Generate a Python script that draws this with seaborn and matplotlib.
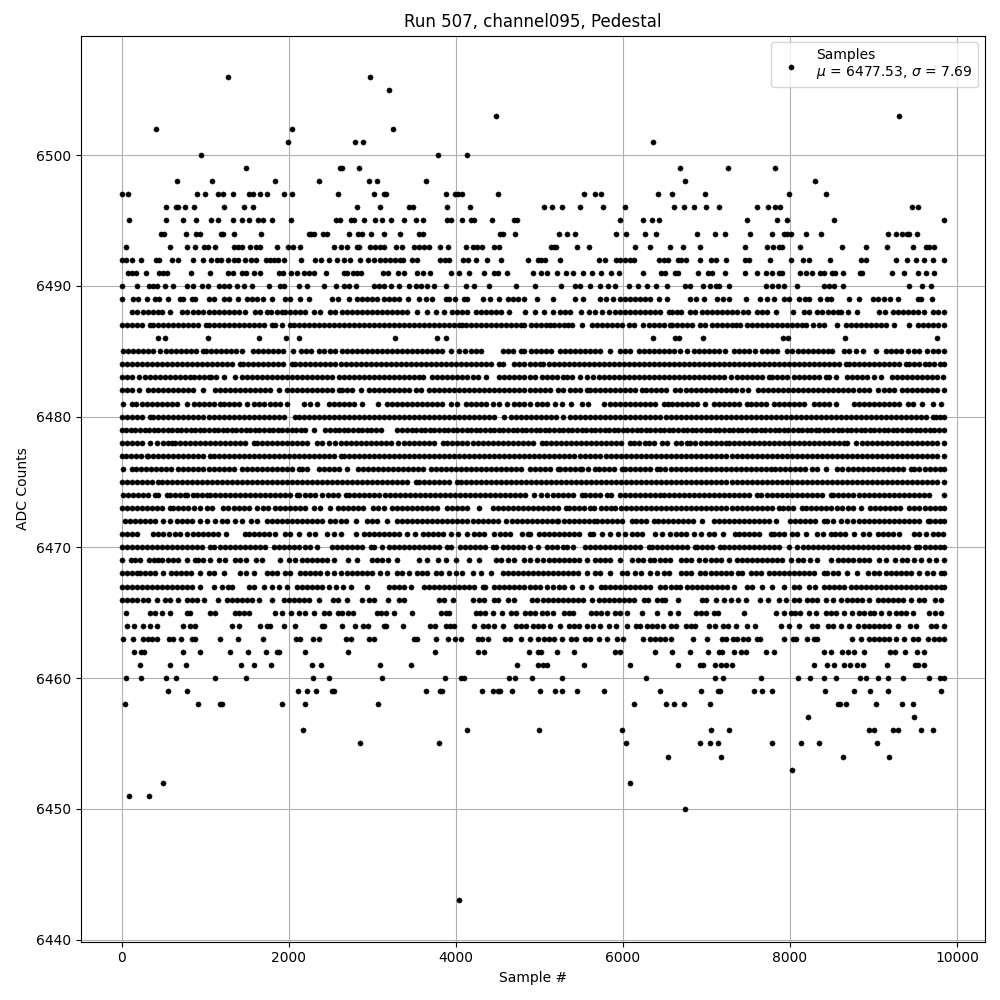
import pandas as pd
import matplotlib
matplotlib.use("Agg")
import matplotlib.pyplot as plt
import seaborn as sns

# sample numbers, one list per ADC level
s6506 = [1268, 2972]
s6505 = [3200]
s6503 = [4476, 9308]
s6502 = [416, 2036, 3248]
s6501 = [1988, 2792, 2888, 6356]
s6500 = [956, 3788, 4136]
s6499 = [1484, 2612, 2640, 2840, 6680, 7256, 7820]
s6498 = [668, 1076, 1832, 2360, 2960, 3056, 3644, 6740, 8300]
s6497 = [8, 80, 908, 1004, 1148, 1208, 1328, 1520, 1568, 1652, 1736, 1940, 2036, 2588, 3020, 3140, 3168, 3884, 3992, 4028, 4076, 4508, 5540, 5672, 5732, 6416, 6584, 6980, 7988, 8432]
s6496 = [536, 656, 680, 764, 872, 1220, 1460, 1568, 2816, 3092, 3440, 3488, 3896, 4172, 5060, 5156, 5276, 5492, 5756, 6020, 6608, 6728, 6848, 6992, 7148, 7604, 7736, 7820, 7880, 9464, 9536]
s6495 = [92, 536, 740, 896, 1064, 1148, 1328, 1436, 1520, 1628, 1688, 1796, 2024, 2564, 2612, 2744, 2780, 2900, 3032, 3116, 3224, 3380, 3524, 3608, 3896, 3944, 4076, 4184, 4220, 4436, 4700, 4736, 5960, 6236, 6344, 6428, 7484, 7844, 7964, 8528, 9842]
s6494 = [476, 512, 776, 896, 944, 1184, 1208, 1340, 1664, 2240, 2270, 2300, 2408, 2456, 2720, 2824, 2872, 2984, 3140, 3332, 3560, 3608, 4532, 4568, 4712, 5240, 5336, 5432, 5912, 6032, 6260, 6392, 6884, 7100, 7220, 7520, 7784, 7928, 7968, 8008, 8192, 8372, 9176, 9272, 9344, 9400, 9428, 9524]
s6493 = [56, 584, 788, 884, 992, 1028, 1112, 1340, 1388, 1436, 1532, 1604, 1660, 1856, 1988, 2048, 2132, 2540, 2620, 2692, 2816, 2840, 2972, 3032, 3092, 3140, 3284, 3356, 3500, 3560, 3620, 3680, 3812, 3908, 4124, 4208, 4256, 4316, 4460, 4520, 5144, 5180, 5204, 5456, 5600, 6140, 6320, 6560, 6716, 6920, 7460, 7724, 7796, 7868, 7904, 8120, 8624, 8912, 9164, 9476, 9632, 9668, 9728]
s6492 = [0, 56, 128, 236, 416, 452, 608, 680, 860, 980, 1064, 1140, 1184, 1268, 1340, 1388, 1472, 1544, 1604, 1724, 1772, 1820, 1868, 1940, 2144, 2312, 2384, 2480, 2576, 2660, 2732, 2852, 2948, 3020, 3092, 3152, 3212, 3272, 3332, 3368, 3476, 3540, 3812, 3872, 3920, 4088, 4148, 4244, 4376, 4544, 4868, 4980, 5024, 5072, 5252, 5708, 5780, 5912, 5960, 6020, 6080, 6128, 6428, 6488, 6536, 6656, 6700, 6752, 6920, 7052, 7112, 7232, 7460, 7508, 7760, 8012, 8156, 8228, 8480, 8852, 8912, 9272, 9404, 9512, 9608, 9716, 9842]
s6491 = [80, 128, 168, 296, 452, 500, 548, 828, 1052, 1268, 1328, 1436, 1484, 1580, 1652, 1880, 1928, 2024, 2096, 2180, 2240, 2300, 2444, 2660, 2696, 2768, 2816, 2864, 3128, 3188, 3308, 3380, 3540, 3608, 3692, 3944, 4040, 4160, 4340, 4460, 4508, 4616, 4928, 5024, 5096, 5216, 5324, 5408, 5528, 5636, 5732, 5852, 5948, 6236, 6452, 6500, 6620, 6656, 6896, 7016, 7064, 7220, 7460, 7604, 7712, 7784, 7868, 7904, 8120, 8192, 8264, 8360, 8408, 8504, 8540, 8636, 8840, 8864, 9224, 9368, 9536, 9624, 9728]
s6490 = [0, 188, 332, 380, 428, 524, 620, 788, 860, 960, 1028, 1160, 1220, 1280, 1380, 1460, 1556, 1760, 1900, 1940, 2120, 2220, 2420, 2564, 2660, 2720, 2800, 3020, 3080, 3140, 3220, 3320, 3440, 3520, 3580, 3660, 3740, 3880, 4120, 4220, 4400, 4720, 4950, 5256, 5428, 5488, 5608, 5728, 5816, 5900, 6076, 6176, 6284, 6392, 6524, 6740, 6808, 6956, 7048, 7120, 7148, 7268, 7712, 7780, 7860, 7928, 8088, 8408, 8470, 8528, 8636, 9428, 9584, 9688]
s6489 = [0, 140, 200, 308, 400, 452, 552, 700, 740, 840, 880, 1040, 1100, 1220, 1280, 1388, 1500, 1560, 1620, 1688, 1796, 1960, 2020, 2132, 2240, 2520, 2588, 2720, 2820, 2880, 2940, 3000, 3060, 3140, 3200, 3260, 3320, 3428, 3560, 3640, 3716, 3880, 3920, 3992, 4100, 4140, 4328, 4412, 4520, 4620, 4680, 4740, 4820, 4976, 5168, 5432, 5528, 5730, 5800, 5880, 5970, 6030, 6090, 6150, 6208, 6270, 6330, 6428, 6524, 6800, 6880, 6968, 7128, 7200, 7268, 7472, 7640, 7720, 7808, 7930, 7988, 8108, 8180, 8228, 8360, 8440, 8488, 8708, 8828, 8990, 9048, 9130, 9200, 9290, 9530, 9568, 9704]
s6488 = [130, 190, 250, 320, 380, 440, 480, 580, 720, 780, 860, 920, 980, 1040, 1100, 1160, 1220, 1280, 1340, 1400, 1480, 1600, 1660, 1740, 1790, 1860, 1920, 1960, 2020, 2080, 2140, 2200, 2300, 2380, 2500, 2560, 2640, 2700, 2760, 2820, 2880, 2940, 3000, 3060, 3120, 3180, 3240, 3300, 3360, 3420, 3540, 3660, 3760, 3860, 3960, 4020, 4080, 4140, 4240, 4300, 4360, 4420, 4480, 4540, 4640, 4830, 4950, 5060, 5168, 5250, 5310, 5370, 5500, 5600, 5670, 5750, 5830, 5910, 5970, 6030, 6090, 6150, 6210, 6270, 6330, 6390, 6450, 6548, 6590, 6650, 6700, 6800, 6860, 6948, 7010, 7070, 7130, 7190, 7250, 7310, 7368, 7436, 7496, 7608, 7670, 7730, 7828, 8036, 8168, 8230, 8320, 8388, 8450, 8510, 8570, 8608, 8696, 8808, 9068, 9136, 9228, 9290, 9350, 9410, 9470, 9530, 9608, 9708, 9770, 9842]
s6487 = [0, 60, 120, 180, 240, 340, 380, 440, 500, 560, 620, 680, 740, 800, 860, 920, 1012, 1040, 1100, 1160, 1220, 1280, 1340, 1400, 1460, 1520, 1580, 1640, 1700, 1800, 1840, 1920, 2020, 2060, 2120, 2180, 2240, 2300, 2360, 2420, 2480, 2540, 2600, 2660, 2720, 2780, 2840, 2900, 2960, 3020, 3080, 3140, 3200, 3260, 3320, 3380, 3440, 3500, 3560, 3620, 3680, 3740, 3800, 3860, 3920, 3980, 4040, 4080, 4120, 4180, 4240, 4300, 4360, 4420, 4480, 4540, 4600, 4660, 4720, 4780, 4820, 4900, 4960, 5020, 5080, 5128, 5176, 5230, 5290, 5348, 5388, 5508, 5628, 5690, 5750, 5810, 5870, 5930, 5990, 6076, 6128, 6240, 6308, 6370, 6430, 6490, 6560, 6588, 6650, 6710, 6770, 6830, 6928, 6988, 7068, 7130, 7190, 7250, 7300, 7348, 7400, 7480, 7540, 7600, 7660, 7720, 7780, 7840, 7900, 7960, 8020, 8080, 8140, 8188, 8280, 8348, 8408, 8568, 8668, 8730, 8790, 8850, 8910, 8970, 9030, 9090, 9150, 9248, 9428, 9528, 9590, 9650, 9710, 9770, 9842]
s6486 = [440, 520, 1028, 1640, 1972, 2120, 3272, 3772, 3880, 6356, 6628, 6668, 6956, 7916, 7976, 8660, 9764]
s6485 = [20, 80, 140, 200, 260, 320, 380, 460, 528, 590, 650, 710, 770, 830, 890, 980, 1012, 1070, 1130, 1190, 1250, 1310, 1370, 1440, 1572, 1630, 1690, 1750, 1810, 1870, 1930, 2052, 2148, 2210, 2270, 2360, 2420, 2490, 2560, 2640, 2700, 2760, 2820, 2880, 2940, 3000, 3060, 3120, 3180, 3240, 3300, 3360, 3420, 3480, 3540, 3600, 3660, 3720, 3780, 3840, 3940, 4040, 4110, 4180, 4240, 4300, 4560, 4620, 4680, 4780, 4820, 4900, 4960, 5020, 5080, 5140, 5248, 5308, 5370, 5428, 5488, 5550, 5610, 5670, 5728, 5848, 5968, 6028, 6090, 6188, 6248, 6310, 6370, 6430, 6490, 6550, 6610, 6680, 6768, 6848, 6910, 6970, 7030, 7090, 7150, 7228, 7328, 7390, 7450, 7508, 7576, 7668, 7730, 7790, 7848, 7968, 8030, 8090, 8150, 8210, 8270, 8330, 8390, 8450, 8508, 8648, 8710, 8788, 8876, 9032, 9148, 9210, 9270, 9328, 9416, 9488, 9550, 9640, 9708, 9770, 9842]
s6484 = [0, 60, 120, 180, 240, 300, 360, 420, 480, 540, 600, 660, 720, 780, 840, 900, 960, 1020, 1080, 1140, 1200, 1260, 1320, 1420, 1452, 1510, 1570, 1630, 1690, 1750, 1810, 1870, 1930, 2040, 2080, 2140, 2200, 2260, 2320, 2380, 2440, 2500, 2560, 2620, 2680, 2740, 2800, 2860, 2920, 2980, 3040, 3100, 3160, 3220, 3280, 3340, 3400, 3460, 3520, 3580, 3640, 3700, 3760, 3820, 3880, 3940, 4000, 4060, 4120, 4180, 4240, 4300, 4360, 4420, 4520, 4560, 4700, 4760, 4820, 4888, 4950, 5008, 5048, 5110, 5170, 5230, 5290, 5350, 5410, 5470, 5530, 5590, 5650, 5710, 5770, 5830, 5890, 5950, 6010, 6070, 6130, 6190, 6250, 6310, 6370, 6430, 6490, 6550, 6610, 6670, 6730, 6790, 6850, 6910, 6970, 7030, 7090, 7150, 7210, 7270, 7330, 7390, 7450, 7510, 7570, 7630, 7690, 7750, 7810, 7870, 7930, 7990, 8050, 8110, 8170, 8230, 8290, 8350, 8410, 8470, 8530, 8590, 8668, 8708, 8770, 8830, 8890, 8950, 9010, 9070, 9128, 9188, 9250, 9310, 9388, 9428, 9490, 9550, 9610, 9668, 9728, 9790, 9842]
s6483 = [0, 60, 120, 212, 280, 340, 400, 460, 520, 580, 640, 700, 760, 820, 872, 930, 985, 1040, 1072, 1130, 1220, 1360, 1440, 1500, 1560, 1620, 1680, 1740, 1800, 1860, 1920, 1980, 2040, 2100, 2160, 2220, 2280, 2340, 2400, 2460, 2520, 2600, 2660, 2720, 2780, 2840, 2900, 2960, 3020, 3080, 3140, 3200, 3260, 3320, 3380, 3440, 3500, 3560, 3612, 3720, 3780, 3840, 3900, 3960, 4020, 4080, 4140, 4200, 4260, 4360, 4520, 4580, 4640, 4700, 4760, 4820, 4888, 4950, 5028, 5088, 5150, 5210, 5288, 5328, 5390, 5488, 5568, 5648, 5710, 5770, 5830, 5890, 5950, 6010, 6070, 6130, 6190, 6250, 6310, 6370, 6430, 6490, 6550, 6610, 6670, 6730, 6790, 6850, 6910, 6970, 7030, 7090, 7150, 7210, 7288, 7368, 7430, 7490, 7550, 7610, 7670, 7748, 7788, 7850, 7910, 7970, 8048, 8108, 8170, 8230, 8290, 8350, 8428, 8468, 8548, 8680, 8740, 8800, 8860, 8920, 9008, 9088, 9216, 9276, 9336, 9396, 9456, 9516, 9576, 9636, 9696, 9756, 9828]
s6482 = [0, 60, 120, 212, 320, 380, 440, 500, 560, 620, 680, 740, 790, 860, 980, 1120, 1180, 1240, 1300, 1360, 1420, 1480, 1540, 1600, 1660, 1720, 1780, 1880, 1980, 2040, 2100, 2160, 2220, 2280, 2340, 2400, 2460, 2520, 2600, 2640, 2700, 2760, 2860, 2960, 3020, 3080, 3140, 3200, 3260, 3320, 3380, 3440, 3520, 3580, 3680, 3740, 3800, 3860, 3920, 3980, 4040, 4100, 4160, 4220, 4280, 4340, 4400, 4460, 4520, 4580, 4640, 4700, 4760, 4820, 4888, 4950, 5010, 5070, 5130, 5228, 5288, 5368, 5430, 5490, 5568, 5608, 5668, 5728, 5788, 5848, 5908, 5968, 6028, 6088, 6148, 6228, 6280, 6340, 6400, 6460, 6520, 6628, 6688, 6750, 6810, 6870, 6930, 6990, 7050, 7110, 7170, 7230, 7290, 7350, 7428, 7496, 7620, 7680, 7740, 7800, 7860, 7920, 7980, 8040, 8100, 8160, 8220, 8280, 8340, 8400, 8460, 8520, 8580, 8640, 8700, 8760, 8820, 8880, 8940, 9048, 9128, 9190, 9248, 9336, 9400, 9460, 9520, 9580, 9640, 9700, 9760, 9842]
s6481 = [20, 120, 172, 240, 300, 360, 420, 480, 540, 600, 668, 788, 872, 930, 990, 1050, 1110, 1180, 1228, 1290, 1350, 1410, 1500, 1580, 1640, 1700, 1780, 1840, 1900, 1980, 2180, 2260, 2340, 2480, 2540, 2600, 2660, 2720, 2780, 2880, 3068, 3180, 3240, 3300, 3360, 3420, 3480, 3540, 3600, 3660, 3720, 3780, 3840, 3948, 4020, 4120, 4180, 4240, 4300, 4360, 4440, 4520, 4612, 4700, 4760, 4820, 4888, 4968, 5028, 5088, 5188, 5268, 5376, 5508, 5588, 5776, 5840, 5900, 5960, 6020, 6080, 6140, 6208, 6268, 6330, 6390, 6488, 6536, 6588, 6650, 6710, 6770, 6830, 6890, 6988, 7088, 7150, 7210, 7270, 7330, 7390, 7488, 7528, 7590, 7650, 7710, 7808, 7868, 7930, 7990, 8050, 8110, 8170, 8288, 8348, 8410, 8470, 8548, 8768, 8830, 8890, 8950, 9010, 9070, 9130, 9190, 9250, 9310, 9408, 9468, 9580, 9708, 9808]
s6480 = [0, 60, 120, 180, 240, 340, 380, 440, 500, 560, 620, 680, 740, 800, 860, 920, 980, 1040, 1100, 1160, 1220, 1280, 1340, 1400, 1460, 1520, 1580, 1640, 1700, 1760, 1820, 1880, 1940, 2080, 2128, 2180, 2240, 2300, 2360, 2420, 2480, 2540, 2600, 2660, 2720, 2780, 2840, 2900, 2960, 3020, 3080, 3140, 3200, 3260, 3320, 3380, 3440, 3500, 3560, 3620, 3680, 3740, 3800, 3860, 3920, 3980, 4040, 4100, 4160, 4220, 4280, 4340, 4400, 4460, 4580, 4660, 4720, 4780, 4840, 4900, 4960, 5020, 5080, 5140, 5200, 5288, 5368, 5430, 5490, 5550, 5610, 5670, 5730, 5790, 5850, 5910, 5970, 6030, 6090, 6150, 6210, 6270, 6330, 6390, 6450, 6510, 6570, 6630, 6690, 6750, 6810, 6870, 6930, 6990, 7050, 7110, 7170, 7230, 7290, 7350, 7410, 7470, 7530, 7590, 7650, 7710, 7770, 7830, 7890, 7950, 8010, 8070, 8130, 8190, 8250, 8310, 8370, 8430, 8490, 8550, 8610, 8670, 8730, 8790, 8850, 8910, 8970, 9030, 9090, 9150, 9210, 9270, 9330, 9390, 9450, 9510, 9570, 9630, 9708, 9748, 9800, 9842]
s6479 = [0, 55, 110, 165, 220, 275, 330, 385, 440, 495, 550, 605, 660, 715, 770, 825, 880, 935, 990, 1045, 1100, 1155, 1210, 1265, 1320, 1375, 1430, 1485, 1540, 1595, 1650, 1705, 1760, 1815, 1870, 1925, 1980, 2035, 2090, 2145, 2200, 2300, 2440, 2495, 2550, 2605, 2660, 2715, 2770, 2825, 2880, 2935, 2990, 3045, 3100, 3300, 3360, 3415, 3470, 3525, 3580, 3635, 3690, 3745, 3800, 3855, 3910, 3965, 4020, 4075, 4130, 4185, 4240, 4295, 4350, 4405, 4460, 4515, 4570, 4625, 4680, 4735, 4790, 4845, 4900, 4955, 5010, 5065, 5120, 5175, 5230, 5285, 5340, 5395, 5450, 5505, 5560, 5615, 5670, 5725, 5780, 5835, 5890, 5945, 6000, 6055, 6110, 6165, 6220, 6275, 6330, 6385, 6440, 6495, 6550, 6605, 6660, 6715, 6770, 6825, 6880, 6935, 6990, 7045, 7100, 7155, 7210, 7265, 7320, 7375, 7430, 7485, 7540, 7595, 7650, 7705, 7760, 7815, 7870, 7925, 7980, 8035, 8090, 8145, 8200, 8255, 8310, 8348, 8405, 8460, 8515, 8570, 8625, 8680, 8735, 8790, 8845, 8900, 8955, 9010, 9065, 9120, 9175, 9230, 9285, 9340, 9395, 9450, 9505, 9560, 9615, 9670, 9725, 9780, 9842]
s6478 = [0, 60, 120, 180, 240, 340, 428, 490, 550, 600, 640, 700, 760, 820, 880, 940, 1000, 1060, 1120, 1180, 1240, 1300, 1360, 1420, 1480, 1580, 1620, 1680, 1740, 1800, 1860, 1920, 1980, 2040, 2100, 2160, 2220, 2340, 2400, 2480, 2560, 2628, 2690, 2750, 2810, 2870, 2930, 2990, 3050, 3110, 3170, 3230, 3308, 3380, 3440, 3500, 3560, 3620, 3680, 3740, 3852, 3900, 3960, 4020, 4080, 4140, 4200, 4260, 4320, 4380, 4440, 4500, 4560, 4620, 4680, 4740, 4800, 4860, 4920, 5028, 5080, 5140, 5200, 5260, 5320, 5380, 5440, 5500, 5560, 5620, 5680, 5740, 5800, 5860, 5920, 5980, 6088, 6128, 6190, 6268, 6308, 6370, 6468, 6528, 6630, 6700, 6768, 6808, 6868, 6936, 7000, 7060, 7120, 7180, 7240, 7268, 7330, 7390, 7450, 7510, 7570, 7630, 7690, 7750, 7810, 7870, 7930, 7990, 8050, 8110, 8170, 8230, 8290, 8350, 8410, 8470, 8530, 8590, 8648, 8688, 8788, 8856, 8920, 8980, 9040, 9100, 9160, 9220, 9280, 9340, 9400, 9460, 9520, 9580, 9640, 9700, 9760, 9842]
s6477 = [0, 52, 110, 170, 230, 300, 320, 380, 440, 500, 560, 620, 680, 740, 800, 860, 920, 980, 1060, 1100, 1160, 1220, 1280, 1340, 1400, 1460, 1520, 1580, 1640, 1700, 1760, 1820, 1880, 1940, 2000, 2060, 2120, 2180, 2240, 2300, 2360, 2420, 2480, 2540, 2620, 2660, 2720, 2780, 2840, 2900, 2960, 3020, 3080, 3140, 3200, 3260, 3320, 3380, 3440, 3500, 3560, 3620, 3680, 3740, 3800, 3860, 3920, 3980, 4040, 4100, 4160, 4220, 4280, 4340, 4400, 4460, 4520, 4580, 4640, 4700, 4760, 4820, 4880, 4940, 5000, 5060, 5120, 5180, 5240, 5300, 5360, 5420, 5488, 5548, 5610, 5670, 5728, 5800, 5860, 5920, 5980, 6040, 6100, 6160, 6220, 6280, 6340, 6400, 6460, 6520, 6580, 6640, 6700, 6760, 6820, 6880, 6940, 7000, 7060, 7120, 7180, 7240, 7300, 7360, 7420, 7480, 7540, 7600, 7660, 7720, 7780, 7840, 7900, 7960, 8020, 8080, 8140, 8200, 8260, 8320, 8380, 8440, 8500, 8560, 8620, 8680, 8740, 8800, 8860, 8920, 8980, 9040, 9100, 9160, 9220, 9280, 9340, 9400, 9460, 9520, 9580, 9640, 9700, 9760, 9842]
s6476 = [20, 120, 172, 230, 290, 350, 410, 470, 530, 590, 680, 740, 800, 860, 920, 980, 1040, 1100, 1160, 1220, 1280, 1340, 1440, 1500, 1560, 1620, 1680, 1740, 1800, 1860, 1920, 1980, 2040, 2120, 2160, 2220, 2360, 2420, 2480, 2540, 2600, 2700, 2828, 2890, 2950, 3010, 3070, 3130, 3190, 3250, 3310, 3370, 3430, 3490, 3550, 3610, 3700, 3760, 3820, 3880, 3940, 4000, 4060, 4120, 4180, 4240, 4300, 4360, 4420, 4480, 4540, 4600, 4660, 4720, 4780, 4888, 4950, 5010, 5070, 5130, 5228, 5248, 5310, 5370, 5430, 5488, 5516, 5580, 5668, 5708, 5770, 5830, 5890, 5988, 6028, 6090, 6150, 6210, 6270, 6330, 6408, 6440, 6508, 6570, 6630, 6690, 6750, 6810, 6870, 6930, 6990, 7050, 7110, 7170, 7230, 7290, 7350, 7410, 7470, 7530, 7590, 7650, 7710, 7768, 7820, 7880, 7940, 8000, 8060, 8120, 8180, 8268, 8320, 8432, 8568, 8628, 8690, 8750, 8810, 8870, 8930, 8990, 9050, 9110, 9170, 9230, 9290, 9350, 9448, 9488, 9550, 9610, 9670, 9730, 9790, 9842]
s6475 = [0, 60, 120, 180, 240, 300, 360, 440, 480, 540, 600, 660, 720, 780, 840, 900, 960, 1020, 1080, 1140, 1200, 1260, 1320, 1380, 1440, 1500, 1560, 1620, 1680, 1740, 1800, 1860, 1920, 1980, 2040, 2100, 2160, 2220, 2280, 2340, 2400, 2460, 2520, 2580, 2640, 2700, 2760, 2820, 2880, 2940, 3000, 3060, 3120, 3180, 3240, 3300, 3360, 3420, 3520, 3560, 3620, 3680, 3740, 3800, 3860, 3920, 4020, 4060, 4120, 4180, 4240, 4300, 4360, 4420, 4480, 4540, 4600, 4660, 4720, 4780, 4840, 4900, 4960, 5020, 5080, 5140, 5200, 5260, 5320, 5380, 5440, 5500, 5560, 5620, 5680, 5740, 5800, 5860, 5920, 5980, 6040, 6100, 6160, 6220, 6280, 6340, 6400, 6460, 6520, 6580, 6640, 6700, 6760, 6820, 6880, 6940, 7000, 7060, 7120, 7180, 7240, 7300, 7360, 7420, 7480, 7540, 7600, 7660, 7720, 7780, 7840, 7900, 7960, 8020, 8080, 8140, 8200, 8260, 8320, 8380, 8440, 8500, 8560, 8620, 8680, 8740, 8800, 8860, 8920, 8980, 9040, 9100, 9160, 9220, 9280, 9340, 9400, 9460, 9520, 9580, 9640, 9700, 9760, 9842]
s6474 = [20, 80, 140, 200, 260, 320, 400, 440, 540, 580, 640, 700, 760, 788, 860, 900, 960, 1020, 1060, 1120, 1180, 1240, 1300, 1360, 1420, 1480, 1540, 1600, 1660, 1720, 1780, 1840, 1900, 1960, 2020, 2100, 2128, 2190, 2250, 2310, 2400, 2468, 2530, 2590, 2680, 2720, 2780, 2840, 2900, 2960, 3020, 3080, 3148, 3210, 3270, 3330, 3390, 3450, 3510, 3570, 3630, 3690, 3750, 3810, 3870, 3930, 3990, 4050, 4110, 4170, 4230, 4290, 4350, 4410, 4470, 4530, 4590, 4650, 4710, 4770, 4830, 4940, 5020, 5096, 5160, 5220, 5280, 5340, 5400, 5508, 5548, 5610, 5670, 5730, 5808, 5856, 5968, 6030, 6090, 6150, 6210, 6270, 6330, 6390, 6448, 6488, 6550, 6610, 6670, 6730, 6790, 6850, 6910, 6970, 7030, 7090, 7150, 7210, 7270, 7330, 7390, 7450, 7510, 7608, 7656, 7720, 7780, 7840, 7900, 7960, 8020, 8080, 8140, 8200, 8260, 8320, 8380, 8488, 8520, 8580, 8640, 8700, 8760, 8820, 8880, 8940, 9000, 9060, 9120, 9180, 9240, 9300, 9360, 9420, 9480, 9540, 9600, 9668, 9842]
s6473 = [0, 60, 120, 180, 240, 300, 360, 420, 480, 580, 612, 680, 740, 800, 868, 940, 1020, 1080, 1212, 1270, 1340, 1400, 1460, 1520, 1620, 1688, 1752, 1840, 1900, 1960, 2020, 2080, 2140, 2200, 2300, 2380, 2492, 2588, 2650, 2710, 2770, 2830, 2890, 3012, 3068, 3140, 3240, 3300, 3360, 3420, 3480, 3540, 3600, 3660, 3720, 3780, 3892, 3960, 4020, 4080, 4140, 4280, 4440, 4500, 4560, 4620, 4680, 4740, 4800, 4860, 4920, 4980, 5040, 5100, 5160, 5220, 5320, 5360, 5420, 5480, 5540, 5608, 5656, 5736, 5800, 5860, 5908, 5976, 6040, 6100, 6160, 6220, 6280, 6340, 6400, 6460, 6520, 6580, 6640, 6700, 6760, 6820, 6880, 6940, 7000, 7060, 7120, 7180, 7240, 7300, 7360, 7420, 7480, 7540, 7600, 7660, 7720, 7780, 7868, 7920, 7980, 8040, 8148, 8188, 8250, 8310, 8370, 8430, 8490, 8568, 8628, 8690, 8750, 8848, 8960, 9020, 9080, 9140, 9200, 9260, 9320, 9428, 9488, 9550, 9610, 9670, 9730, 9790, 9842]
s6472 = [40, 100, 160, 220, 280, 340, 400, 500, 580, 660, 720, 780, 840, 940, 1020, 1120, 1200, 1260, 1360, 1440, 1548, 1620, 1740, 1800, 1860, 1920, 1980, 2040, 2100, 2160, 2220, 2280, 2340, 2400, 2500, 2560, 2620, 2680, 2800, 2940, 3000, 3060, 3180, 3300, 3360, 3420, 3480, 3540, 3600, 3660, 3720, 3780, 3840, 3900, 3960, 4020, 4080, 4140, 4200, 4260, 4320, 4380, 4440, 4500, 4600, 4668, 4730, 4790, 4850, 4910, 4970, 5030, 5090, 5150, 5208, 5228, 5290, 5350, 5410, 5470, 5530, 5590, 5656, 5688, 5750, 5810, 5870, 5930, 5990, 6108, 6160, 6220, 6280, 6368, 6416, 6480, 6540, 6600, 6660, 6720, 6780, 6840, 6948, 7088, 7150, 7210, 7270, 7330, 7390, 7450, 7510, 7570, 7630, 7690, 7750, 7828, 8000, 8060, 8120, 8180, 8240, 8300, 8408, 8448, 8510, 8616, 8688, 8760, 8820, 8880, 8940, 9000, 9060, 9120, 9180, 9240, 9300, 9360, 9420, 9480, 9540, 9648, 9680, 9740, 9800, 9842]
s6471 = [0, 60, 120, 180, 380, 440, 500, 572, 640, 700, 780, 852, 910, 970, 1030, 1090, 1150, 1252, 1472, 1530, 1590, 1650, 1710, 1770, 1830, 1960, 2020, 2120, 2240, 2320, 2460, 2540, 2620, 2808, 2900, 2960, 3020, 3080, 3140, 3200, 3260, 3320, 3412, 3512, 3608, 3670, 3730, 3790, 3850, 3940, 4032, 4140, 4220, 4280, 4340, 4460, 4528, 4590, 4650, 4788, 4860, 4888, 5000, 5060, 5120, 5180, 5240, 5300, 5360, 5420, 5480, 5608, 5648, 5748, 5848, 5936, 6028, 6108, 6168, 6230, 6388, 6468, 6568, 6630, 6690, 6750, 6848, 6936, 7028, 7088, 7200, 7336, 7388, 7450, 7510, 7570, 7630, 7768, 7808, 7870, 7930, 8028, 8088, 8188, 8328, 8390, 8488, 8536, 8600, 8660, 8768, 8868, 8948, 9048, 9110, 9170, 9230, 9308, 9488, 9550, 9628, 9708, 9770, 9828]
s6470 = [0, 60, 120, 180, 240, 300, 360, 420, 480, 540, 600, 660, 720, 780, 840, 900, 960, 1060, 1100, 1180, 1240, 1300, 1360, 1420, 1480, 1540, 1600, 1660, 1720, 1820, 1880, 1940, 2000, 2060, 2120, 2200, 2260, 2340, 2520, 2580, 2640, 2700, 2760, 2820, 2880, 2980, 3020, 3112, 3200, 3260, 3320, 3380, 3440, 3500, 3560, 3620, 3680, 3740, 3800, 3900, 3948, 4052, 4110, 4170, 4230, 4290, 4350, 4440, 4480, 4568, 4630, 4690, 4750, 4810, 4888, 4988, 5088, 5150, 5210, 5288, 5328, 5408, 5548, 5610, 5670, 5730, 5790, 5850, 5910, 5970, 6030, 6090, 6150, 6210, 6308, 6348, 6410, 6470, 6530, 6590, 6650, 6710, 6770, 6868, 6888, 6950, 7010, 7070, 7168, 7208, 7270, 7330, 7390, 7450, 7510, 7570, 7630, 7690, 7750, 7810, 7870, 7988, 8088, 8150, 8210, 8270, 8330, 8390, 8450, 8510, 8570, 8630, 8690, 8750, 8810, 8870, 8930, 8990, 9050, 9110, 9170, 9230, 9290, 9350, 9410, 9508, 9548, 9610, 9670, 9730, 9790, 9842]
s6469 = [0, 108, 160, 220, 332, 390, 440, 480, 560, 620, 680, 780, 880, 920, 980, 1060, 1160, 1240, 1360, 1420, 1492, 1612, 1680, 1892, 2000, 2080, 2160, 2220, 2280, 2340, 2400, 2460, 2540, 2708, 2820, 3000, 3060, 3120, 3188, 3292, 3560, 3660, 3788, 3880, 4000, 4160, 4280, 4480, 4540, 4620, 4700, 4812, 4890, 4968, 5048, 5110, 5170, 5230, 5290, 5350, 5410, 5470, 5568, 5668, 5730, 5790, 5850, 5968, 6108, 6176, 6240, 6328, 6376, 6440, 6500, 6568, 6696, 6760, 6820, 6908, 6988, 7050, 7110, 7170, 7268, 7360, 7428, 7490, 7550, 7610, 7670, 7730, 7790, 7850, 7910, 8008, 8096, 8160, 8240, 8320, 8488, 8576, 8640, 8700, 8760, 8820, 8880, 8940, 9068, 9148, 9256, 9336, 9400, 9488, 9568, 9668, 9748, 9842]
s6468 = [0, 60, 120, 180, 220, 280, 340, 400, 500, 588, 650, 710, 770, 830, 940, 1040, 1100, 1228, 1412, 1492, 1580, 1740, 1800, 1860, 1960, 2020, 2140, 2200, 2260, 2320, 2380, 2460, 2540, 2620, 2700, 2760, 2820, 2880, 2940, 3000, 3092, 3180, 3300, 3360, 3440, 3540, 3600, 3660, 3760, 3820, 3920, 4000, 4080, 4200, 4300, 4420, 4560, 4620, 4680, 4740, 4800, 4860, 4920, 4980, 5040, 5100, 5160, 5220, 5280, 5340, 5400, 5460, 5568, 5668, 5728, 5840, 5988, 6050, 6148, 6220, 6328, 6408, 6488, 6548, 6696, 6760, 6820, 6920, 6988, 7050, 7110, 7170, 7230, 7290, 7376, 7428, 7528, 7588, 7648, 7748, 7810, 7870, 7930, 7990, 8050, 8110, 8170, 8230, 8290, 8408, 8448, 8510, 8570, 8688, 8808, 8928, 9008, 9070, 9148, 9208, 9268, 9330, 9390, 9450, 9548, 9636, 9716, 9808, 9842]
s6467 = [0, 60, 120, 180, 240, 300, 360, 420, 480, 540, 600, 660, 720, 780, 840, 940, 1100, 1200, 1268, 1320, 1520, 1580, 1700, 1800, 1880, 1980, 2100, 2160, 2220, 2280, 2340, 2400, 2480, 2568, 2652, 2748, 2936, 3200, 3260, 3320, 3380, 3460, 3620, 3680, 3740, 3800, 3860, 3920, 3980, 4040, 4100, 4160, 4220, 4320, 4352, 4460, 4520, 4580, 4640, 4700, 4760, 4820, 4888, 4950, 5010, 5088, 5168, 5230, 5290, 5388, 5516, 5624, 5732, 5790, 5850, 5910, 5970, 6030, 6090, 6150, 6210, 6270, 6330, 6448, 6508, 6570, 6630, 6688, 6768, 6830, 6890, 6950, 7010, 7070, 7130, 7190, 7250, 7328, 7488, 7550, 7668, 7788, 7928, 8048, 8110, 8228, 8300, 8408, 8470, 8530, 8590, 8650, 8728, 8788, 8850, 8910, 8970, 9030, 9090, 9150, 9210, 9270, 9330, 9390, 9450, 9510, 9570, 9630, 9690, 9750, 9810, 9842]
s6466 = [0, 60, 120, 188, 250, 310, 420, 520, 580, 680, 780, 840, 900, 988, 1148, 1260, 1320, 1380, 1440, 1500, 1560, 1640, 1796, 1940, 2000, 2060, 2120, 2180, 2240, 2360, 2528, 2588, 2696, 2880, 2960, 3020, 3188, 3320, 3380, 3800, 3860, 3968, 4200, 4280, 4340, 4452, 4500, 4628, 4700, 4908, 4976, 5040, 5100, 5160, 5220, 5280, 5340, 5400, 5460, 5520, 5628, 5708, 5770, 5830, 5890, 5950, 6010, 6070, 6130, 6248, 6304, 6408, 6470, 6508, 6656, 6948, 7000, 7116, 7208, 7288, 7376, 7468, 7640, 7736, 7868, 7956, 8048, 8108, 8200, 8260, 8320, 8428, 8516, 8616, 8680, 8740, 8800, 8860, 8948, 9048, 9110, 9170, 9228, 9288, 9350, 9448, 9548, 9608, 9736, 9808]
s6465 = [48, 340, 400, 480, 584, 788, 820, 1060, 1120, 1352, 1410, 1470, 1520, 1840, 1920, 2024, 2120, 2200, 2300, 2420, 2480, 2588, 2640, 2708, 2768, 3060, 3100, 3164, 3256, 3476, 3820, 3880, 3920, 4240, 4292, 4352, 4440, 4548, 4660, 4720, 4828, 4890, 4950, 5030, 5096, 5168, 5300, 5360, 5408, 5616, 5680, 5740, 5808, 5908, 5970, 6048, 6232, 6404, 6560, 6656, 6872, 6930, 7000, 7088, 7136, 7448, 7832, 7928, 8008, 8056, 8120, 8228, 8316, 8428, 8490, 8550, 8648, 8748, 8828, 8888, 8960, 9008, 9088, 9188, 9268, 9330, 9390, 9468, 9668, 9740, 9812]
s6464 = [60, 152, 260, 340, 420, 740, 820, 880, 1316, 1400, 1652, 1740, 1772, 1940, 2072, 2400, 2428, 2636, 2792, 2888, 2948, 3140, 3164, 3368, 3692, 3752, 3880, 3930, 3980, 4220, 4320, 4380, 4452, 4568, 4720, 4780, 4840, 4920, 4980, 5040, 5128, 5248, 5360, 5420, 5480, 5568, 5648, 5728, 5828, 5920, 6048, 6160, 6208, 6284, 6348, 6410, 6480, 6572, 6636, 6752, 6810, 6860, 7028, 7100, 7196, 7260, 7348, 7488, 7580, 7896, 7988, 8108, 8264, 8320, 8456, 8516, 8612, 8708, 8816, 8880, 8940, 9000, 9060, 9120, 9188, 9288, 9440, 9512, 9688, 9750, 9842]
s6463 = [20, 140, 260, 320, 360, 428, 572, 620, 716, 840, 880, 1172, 1388, 1688, 2084, 2140, 2288, 2360, 2684, 2744, 2960, 3020, 3500, 3540, 3764, 3912, 3992, 4060, 4268, 4316, 4388, 4592, 4652, 4780, 4892, 4988, 5050, 5110, 5170, 5268, 5376, 5440, 5548, 5608, 5708, 5804, 5924, 5996, 6236, 6320, 6380, 6440, 6500, 6572, 6836, 7004, 7184, 7236, 7316, 7368, 7436, 7496, 7608, 7640, 7928, 8036, 8072, 8204, 8288, 8320, 8740, 8852, 8948, 9010, 9070, 9130, 9190, 9272, 9360, 9476, 9536, 9656, 9720, 9780, 9842]
s6462 = [152, 236, 272, 740, 944, 1292, 1508, 1724, 1856, 1880, 2192, 2708, 3752, 4268, 4340, 4872, 4980, 5024, 5216, 5420, 5900, 5968, 6380, 6584, 6800, 7016, 7148, 7184, 7328, 7408, 7468, 7712, 7808, 8408, 8492, 8624, 8690, 8768, 8888, 9200, 9260, 9376, 9524, 9608]
s6461 = [224, 584, 776, 1424, 1580, 1784, 2276, 2384, 3092, 3464, 4736, 4988, 5040, 5096, 5540, 6080, 6656, 6920, 6956, 7100, 7170, 7240, 7308, 8288, 8444, 8528, 8648, 8720, 8804, 8876, 9164, 9500, 9536, 9608]
s6460 = [48, 236, 536, 656, 1112, 1484, 2288, 2480, 3116, 3872, 4064, 4100, 4640, 4712, 4916, 5276, 6272, 7100, 7196, 7652, 8096, 8240, 8404, 8552, 8840, 8908, 9056, 9176, 9356, 9668, 9800, 9842]
s6459 = [560, 788, 2108, 2216, 2324, 2516, 2540, 3644, 3812, 3836, 4316, 4448, 4508, 4532, 4676, 5012, 5192, 5276, 5456, 5768, 6440, 6932, 7136, 7160, 7568, 7664, 7784, 8420, 8768, 8960, 9176, 9812]
s6458 = [44, 920, 1172, 1196, 1916, 2192, 3068, 6128, 6512, 6608, 6728, 7040, 8576, 8600, 8672, 9032, 9344, 9476]
s6457 = [8216, 9488]
s6456 = [2168, 4136, 5000, 5984, 7052, 7268, 8948, 9008, 9236, 9296, 9572, 9716]
s6455 = [2852, 3800, 6032, 6920, 7040, 7136, 7784, 8132, 8348, 9044]
s6454 = [6536, 7172, 8636, 9188]
s6453 = [8024]
s6452 = [500, 6080]
s6451 = [92, 332]
s6450 = [6740]
s6443 = [4040]

levels = {6506: s6506, 6505: s6505, 6503: s6503, 6502: s6502, 6501: s6501, 6500: s6500, 6499: s6499, 6498: s6498, 6497: s6497, 6496: s6496, 6495: s6495, 6494: s6494, 6493: s6493, 6492: s6492, 6491: s6491, 6490: s6490, 6489: s6489, 6488: s6488, 6487: s6487, 6486: s6486, 6485: s6485, 6484: s6484, 6483: s6483, 6482: s6482, 6481: s6481, 6480: s6480, 6479: s6479, 6478: s6478, 6477: s6477, 6476: s6476, 6475: s6475, 6474: s6474, 6473: s6473, 6472: s6472, 6471: s6471, 6470: s6470, 6469: s6469, 6468: s6468, 6467: s6467, 6466: s6466, 6465: s6465, 6464: s6464, 6463: s6463, 6462: s6462, 6461: s6461, 6460: s6460, 6459: s6459, 6458: s6458, 6457: s6457, 6456: s6456, 6455: s6455, 6454: s6454, 6453: s6453, 6452: s6452, 6451: s6451, 6450: s6450, 6443: s6443}

rows = [(x, adc) for adc, xs in levels.items() for x in xs]
df = pd.DataFrame(rows, columns=["sample", "adc"])

fig, ax = plt.subplots(figsize=(10, 10))
sns.scatterplot(data=df, x="sample", y="adc", marker="o", s=14, color="black", edgecolor="black", linewidth=0.3, ax=ax,
                label="Samples\n$\\mu$ = 6477.53, $\\sigma$ = 7.69", zorder=3)
ax.set_title("Run 507, channel095, Pedestal")
ax.set_xlabel("Sample #")
ax.set_ylabel("ADC Counts")
ax.grid(True)
ax.legend(loc="upper right")
fig.subplots_adjust(left=0.0805, right=0.985, top=0.9645, bottom=0.0585)
plt.savefig("out.png", dpi=100)
